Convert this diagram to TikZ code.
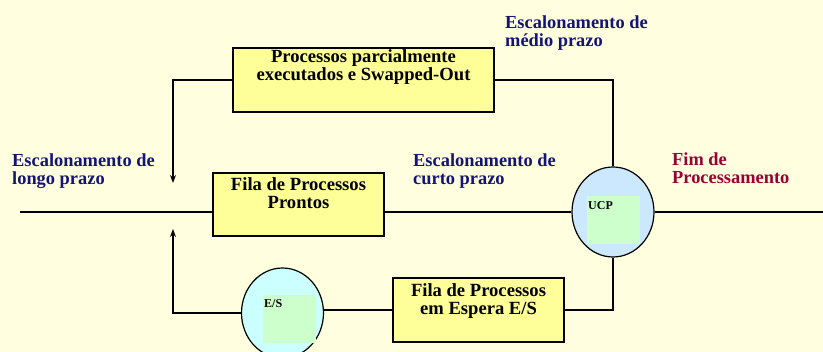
\documentclass[tikz,border=0pt]{standalone}
\usepackage{fontspec}
\setmainfont{Liberation Serif}
\usetikzlibrary{shapes.geometric,arrows.meta}
\definecolor{bg}{HTML}{FFFFE0}
\definecolor{boxfill}{HTML}{FFFF99}
\definecolor{ucpfill}{HTML}{CCE8FF}
\definecolor{esfill}{HTML}{CCFFFF}
\definecolor{sqfill}{HTML}{CCFFCC}
\definecolor{navy}{HTML}{141478}
\definecolor{fim}{HTML}{990033}
\begin{document}
\begin{tikzpicture}[x=1pt,y=-1pt,
  conn/.style={line width=1.2pt, draw=black},
  arr/.style={conn, -{Stealth[length=8pt,width=6pt]}},
  qbox/.style={rectangle, draw=black, line width=1.2pt, fill=boxfill, inner sep=0pt},
  btext/.style={inner sep=0pt, align=center, font=\bfseries\fontsize{18.6}{18}\selectfont},
  lbl/.style={inner sep=0pt, align=left, anchor=base west, font=\bfseries\fontsize{18.4}{18.5}\selectfont},
  disc/.style={ellipse, draw=black, line width=1.2pt, inner sep=0pt, minimum width=82pt, minimum height=90pt},
  sq/.style={rectangle, fill=sqfill, inner sep=0pt, minimum width=53pt, minimum height=48pt},
  small/.style={inner sep=0pt, anchor=base west, font=\bfseries\fontsize{12}{12}\selectfont}
]
\fill[bg] (0,0) rectangle (823,352);
\useasboundingbox (0,0) rectangle (823,352);

% boxes
\node[qbox, minimum width=261pt, minimum height=64pt] (pp) at (363.5,80) {};
\node[btext, anchor=north] (pptxt) at ([yshift=-2.2pt]pp.north) {Processos parcialmente\\executados e Swapped-Out};

\node[qbox, minimum width=171pt, minimum height=63pt] (fp) at (298.5,204.5) {};
\node[btext, anchor=north] (fptxt) at ([yshift=-5.2pt]fp.north) {Fila de Processos\\Prontos};

\node[qbox, minimum width=171pt, minimum height=64pt] (fe) at (478.5,310) {};
\node[btext, anchor=north] (fetxt) at ([yshift=-6pt]fe.north) {Fila de Processos\\em Espera E/S};

% discs
\node[disc, fill=ucpfill] (ucp) at (613,212) {};
\node[sq] (ucpsq) at (613.5,220) {};
\node[small] (ucptxt) at (588,210) {UCP};

\node[disc, fill=esfill] (es) at (282.5,313) {};
\node[sq] (essq) at (289.5,319) {};
\node[small] (estxt) at (264,308) {E/S};

% coordinates
\coordinate (start) at (20,212);
\coordinate (finish) at (823,212);
\coordinate (ltop) at (173,183);
\coordinate (lbot) at (173,229);

% connectors
\draw[conn] (start) -- (fp.west |- start);
\draw[conn] (fp.east |- ucp.west) -- (ucp.west);
\draw[conn] (ucp.east) -- (finish);
\draw[arr] (pp.west) -| (ltop);
\draw[conn] (pp.east) -| (ucp.north);
\draw[conn] (ucp.south) |- (fe.east);
\draw[conn] (fe.west) -- (fe.west -| es.east);
\draw[arr] (es.west) -| (lbot);

% labels (anchor is the baseline of the last line)
\node[lbl, text=navy] (medio) at (505,47) {Escalonamento de\\médio prazo};
\node[lbl, text=navy] (longo) at (12,185) {Escalonamento de\\longo prazo};
\node[lbl, text=navy] (curto) at (413,185) {Escalonamento de\\curto prazo};
\node[lbl, text=fim] (fimp) at (672,184) {Fim de\\Processamento};
\end{tikzpicture}
\end{document}
